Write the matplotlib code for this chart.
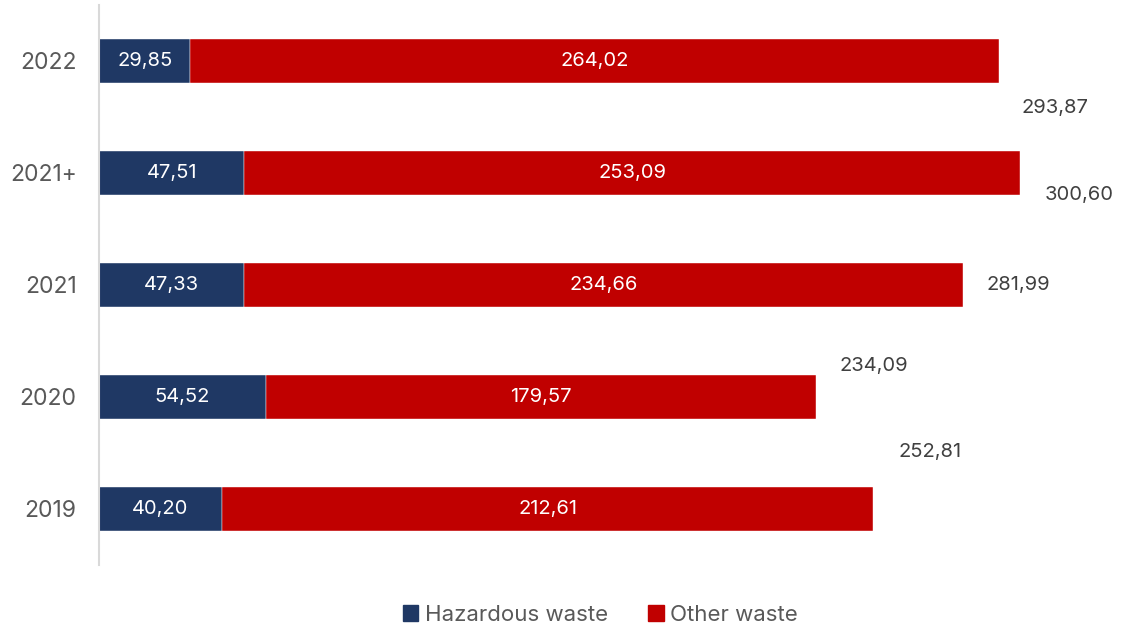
import matplotlib
matplotlib.use("Agg")
import matplotlib.pyplot as plt
from matplotlib.patches import Patch
import numpy as np

years = ["2019", "2020", "2021", "2021+", "2022"]
hazardous = [40.20, 54.52, 47.33, 47.51, 29.85]
other = [212.61, 179.57, 234.66, 253.09, 264.02]
totals = [252.81, 234.09, 281.99, 300.60, 293.87]
# where each total label sits relative to the end of its bar (points)
total_offsets = [(41, 41), (42, 22), (40, 0), (43, -16), (40, -34)]

navy = "#1F3864"
red = "#C00000"

plt.rcParams['font.family'] = ['Inter', 'DejaVu Sans']

fig = plt.figure(figsize=(11.22, 6.3), dpi=100)
ax = fig.add_axes([0.0882, 0.1032, 0.9118, 0.889])

y = np.arange(len(years))
h = 0.40
ax.barh(y, hazardous, height=h, color=navy, edgecolor="white", linewidth=0.3)
ax.barh(y, other, left=hazardous, height=h, color=red, edgecolor="white", linewidth=0.3)

for i in range(len(years)):
    ax.text(hazardous[i] / 2, y[i], f"{hazardous[i]:.2f}".replace(".", ","),
            ha="center", va="center", color="white", fontsize=14.5)
    ax.text(hazardous[i] + other[i] / 2, y[i], f"{other[i]:.2f}".replace(".", ","),
            ha="center", va="center", color="white", fontsize=14.5)
    ax.annotate(f"{totals[i]:.2f}".replace(".", ","), (totals[i], y[i]),
                xytext=total_offsets[i], textcoords="offset points",
                ha="center", va="center", color="#404040", fontsize=14.5)

ax.set_xlim(0, 334)
ax.set_ylim(-0.5, 4.5)
ax.set_yticks(y)
ax.set_yticklabels(years, fontsize=16.5, color="#595959")
ax.tick_params(axis="y", length=0, pad=16)
ax.set_xticks([])
for s in ["top", "right", "bottom"]:
    ax.spines[s].set_visible(False)
ax.spines["left"].set_color("#D9D9D9")
ax.spines["left"].set_linewidth(1.5)

handles = [Patch(color=navy, label="Hazardous waste"), Patch(color=red, label="Other waste")]
fig.legend(handles=handles, loc="center", bbox_to_anchor=(0.535, 0.024), ncol=2,
           frameon=False, fontsize=16, labelcolor="#595959",
           handlelength=0.7, handleheight=0.7, handletextpad=0.3, columnspacing=1.8)

fig.savefig("out.png", dpi=100)
